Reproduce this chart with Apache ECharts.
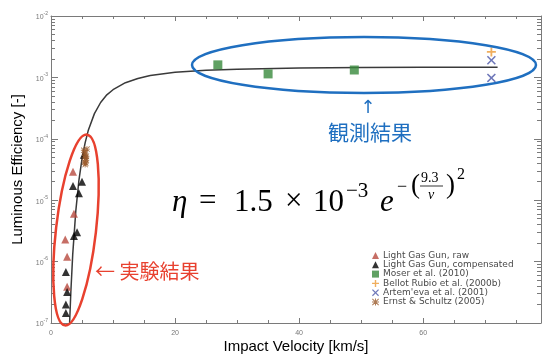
<!DOCTYPE html>
<html><head><meta charset="utf-8">
<script src="https://cdn.jsdelivr.net/npm/echarts@6/dist/echarts.min.js"></script>
<style>html,body{margin:0;padding:0;background:#fff}#c{width:544px;height:356px}</style>
</head><body><div id="c"></div>
<script>
// ---- data ----
const lggRaw = [[3.55,2.9e-5],[3.7,6.0e-6],[2.3,2.3e-6],[2.6,1.2e-6],[2.6,3.9e-7]];
const lggComp = [[5.3,5.5e-5],[5.0,2.0e-5],[3.55,1.7e-5],[4.5,1.3e-5],[4.2,3.0e-6],[3.7,2.6e-6],[2.4,6.8e-7],[2.6,3.2e-7],[2.4,2.0e-7],[2.4,1.45e-7]];
const moser = [[26.9,1.6e-3],[35.0,1.14e-3],[48.9,1.32e-3]];
const bellot = [[71.0,2.6e-3]];
const artemeva = [[71.0,1.9e-3],[71.0,9.8e-4]];
const ernst = [[5.3,6.5e-5],[5.5,5.8e-5],[5.6,4.8e-5],[5.4,4.2e-5],[5.7,5.2e-5],[5.5,3.8e-5],[5.8,6.8e-5],[5.4,5.0e-5],[5.6,4.0e-5],[5.7,4.5e-5],[5.5,6.0e-5]];
const fitV   = [3.0, 3.2, 3.5, 4.0, 4.5, 5.0, 5.5, 6.0, 7.0, 8.0, 9.0, 10, 12, 14, 16, 20, 25, 30, 40, 50, 60, 72];
const fitEta = [1.0e-7,3.2e-7,1.3e-6,6.7e-6,2.1e-5,4.7e-5,8.6e-5,1.36e-4,2.57e-4,3.9e-4,5.2e-4,6.3e-4,8.2e-4,9.6e-4,1.07e-3,1.21e-3,1.31e-3,1.36e-3,1.42e-3,1.45e-3,1.46e-3,1.47e-3];
const xTicks = [0, 20, 40, 60];
const yExponents = [-7, -6, -5, -4, -3, -2];
const minorY = [];
yExponents.slice(0, -1).forEach(e => { for (let k = 2; k <= 9; k++) minorY.push(k * Math.pow(10, e)); });

const names = ['Light Gas Gun, raw','Light Gas Gun, compensated','Moser et al. (2010)','Bellot Rubio et al. (2000b)',"Artem'eva et al. (2001)",'Ernst & Schultz (2005)'];

const PLUS = 'path://M4,0H6V4H10V6H6V10H4V6H0V4H4Z';
const XMARK = 'path://M1.2,0L5,3.8L8.8,0L10,1.2L6.2,5L10,8.8L8.8,10L5,6.2L1.2,10L0,8.8L3.8,5L0,1.2Z';
const AST = 'path://M4.3,0H5.7V4.3H10V5.7H5.7V10H4.3V5.7H0V4.3H4.3Z M1,0L5,4L9,0L10,1L6,5L10,9L9,10L5,6L1,10L0,9L4,5L0,1Z';

const axisGray = '#7a7a7a';
const FONT = 'Liberation Sans';

function xAx(pos, showLabel) {
  return {
    type: 'value', position: pos, min: 0, max: 79, interval: 20,
    axisLine: { show: true, lineStyle: { color: axisGray, width: 1 } },
    axisTick: { show: true, inside: true, length: 5, lineStyle: { color: axisGray } },
    minorTick: { show: true, splitNumber: 4, length: 3, lineStyle: { color: axisGray } },
    splitLine: { show: false },
    axisLabel: { show: showLabel, color: '#777', fontSize: 7, fontFamily: FONT, margin: 7,
      customValues: xTicks },
  };
}
function yAx(pos, major, showLabel) {
  const a = {
    type: 'log', logBase: 10, position: pos, min: 1e-7, max: 1e-2,
    axisLine: { show: major, lineStyle: { color: axisGray, width: 1 } },
    splitLine: { show: false },
    axisTick: { show: true, inside: true, length: major ? 7 : 4, lineStyle: { color: axisGray } },
    axisLabel: { show: false },
  };
  a.axisTick.customValues = major ? yExponents.map(e => Math.pow(10, e)) : minorY;
  if (showLabel) {
    a.axisLabel = {
      show: true, margin: 3, color: '#777', fontFamily: FONT,
      customValues: yExponents.map(e => Math.pow(10, e)),
      formatter: v => '{b|10}{s|' + Math.round(Math.log10(v)) + '}',
      rich: { b: { fontSize: 7, color: '#777', fontFamily: FONT, verticalAlign: 'bottom', lineHeight: 10 },
              s: { fontSize: 5, color: '#777', fontFamily: FONT, verticalAlign: 'top', lineHeight: 10 } }
    };
  }
  return a;
}

const chart = echarts.init(document.getElementById('c'), null, { renderer: 'canvas' });
const textBase = { fontFamily: 'Liberation Serif', fill: '#000' };
function t(x, y, text, size, extra) {
  return { type: 'text', x, y, z: 100, style: Object.assign({}, textBase, { text, fontSize: size, verticalAlign: 'middle', align: 'left' }, extra || {}) };
}
const option = {
  backgroundColor: '#fff',
  animation: false,
  grid: { left: 51, top: 16, right: 3, bottom: 33, containLabel: false, outerBoundsMode: 'none' },
  xAxis: [xAx('bottom', true), xAx('top', false)],
  yAxis: [yAx('left', true, true), yAx('left', false, false), yAx('right', true, false), yAx('right', false, false)],
  legend: {
    orient: 'vertical', left: 367, top: 246, itemWidth: 7, itemHeight: 7, itemGap: 0.3,
    textStyle: { fontSize: 9, color: '#4a4a4a', fontFamily: 'DejaVu Sans', padding: [0, 0, 0, -1] },
    data: names
  },
  graphic: [
    { type: 'ellipse', x: 76, y: 230, rotation: -0.115, shape: { cx: 0, cy: 0, rx: 20, ry: 96 }, style: { fill: 'none', stroke: '#e8412f', lineWidth: 2.5 }, z: 50 },
    { type: 'ellipse', shape: { cx: 364, cy: 65, rx: 172, ry: 28 }, style: { fill: 'none', stroke: '#1f6fc0', lineWidth: 2.5 }, z: 50 },
    { type: 'text', x: 368, y: 108, z: 100, style: { text: '↑', fontSize: 18, fill: '#1f6fc0', fontFamily: 'DejaVu Sans', align: 'center', verticalAlign: 'middle' } },
    { type: 'text', x: 370, y: 132, z: 100, style: { text: '観測結果', fontSize: 21, fill: '#1f6fc0', fontFamily: 'Noto Sans CJK JP', align: 'center', verticalAlign: 'middle' } },
    { type: 'text', x: 95, y: 271, z: 100, style: { text: '← 実験結果', fontSize: 20, fill: '#e8412f', fontFamily: 'Noto Sans CJK JP', align: 'left', verticalAlign: 'middle' } },
    // formula
    t(172, 203, 'η', 31, { fontStyle: 'italic' }),
    t(199, 202, '=', 31),
    t(234, 203, '1.5', 31),
    t(285, 202, '×', 31),
    t(313, 203, '10', 31),
    t(346, 191, '−3', 21),
    t(380, 203, 'e', 31, { fontStyle: 'italic' }),
    t(397, 187, '−', 18),
    t(411, 186, '(', 27),
    t(421, 178, '9.3', 14),
    { type: 'line', z: 100, shape: { x1: 420, y1: 186, x2: 443, y2: 186 }, style: { stroke: '#000', lineWidth: 0.8 } },
    t(428, 195, 'v', 14, { fontStyle: 'italic' }),
    t(446, 186, ')', 27),
    t(457, 175, '2', 16),
  ],
  series: [
    { name: 'fit', type: 'line', data: fitV.map((v, i) => [v, fitEta[i]]), showSymbol: false, symbol: 'none',
      lineStyle: { color: '#3a3a3a', width: 1.5 }, z: 2, silent: true },
    { name: names[0], type: 'scatter', data: lggRaw, symbol: 'triangle', symbolSize: [8, 8], itemStyle: { color: '#b84a3e' }, z: 5 },
    { name: names[1], type: 'scatter', data: lggComp, symbol: 'triangle', symbolSize: [8, 8], itemStyle: { color: '#000' }, z: 5 },
    { name: names[2], type: 'scatter', data: moser, symbol: 'rect', symbolSize: 9, itemStyle: { color: '#388a3c' }, z: 5 },
    { name: names[3], type: 'scatter', data: bellot, symbol: PLUS, symbolSize: 9, itemStyle: { color: '#ec9a34' }, z: 5 },
    { name: names[4], type: 'scatter', data: artemeva, symbol: XMARK, symbolSize: 9, itemStyle: { color: '#4a55a8' }, z: 5 },
    { name: names[5], type: 'scatter', data: ernst, symbol: AST, symbolSize: 6, itemStyle: { color: '#9a5a2a' }, z: 6 },
  ]
};
option.xAxis[0].name = 'Impact Velocity [km/s]';
option.xAxis[0].nameLocation = 'middle';
option.xAxis[0].nameGap = 16;
option.xAxis[0].nameMoveOverlap = false;
option.xAxis[0].nameTextStyle = { fontSize: 15, color: '#000', fontFamily: FONT };
option.yAxis[0].name = 'Luminous Efficiency [-]';
option.yAxis[0].nameLocation = 'middle';
option.yAxis[0].nameGap = 26;
option.yAxis[0].nameTextStyle = { fontSize: 15, color: '#000', fontFamily: FONT };
chart.setOption(option);
</script>
</body></html>
